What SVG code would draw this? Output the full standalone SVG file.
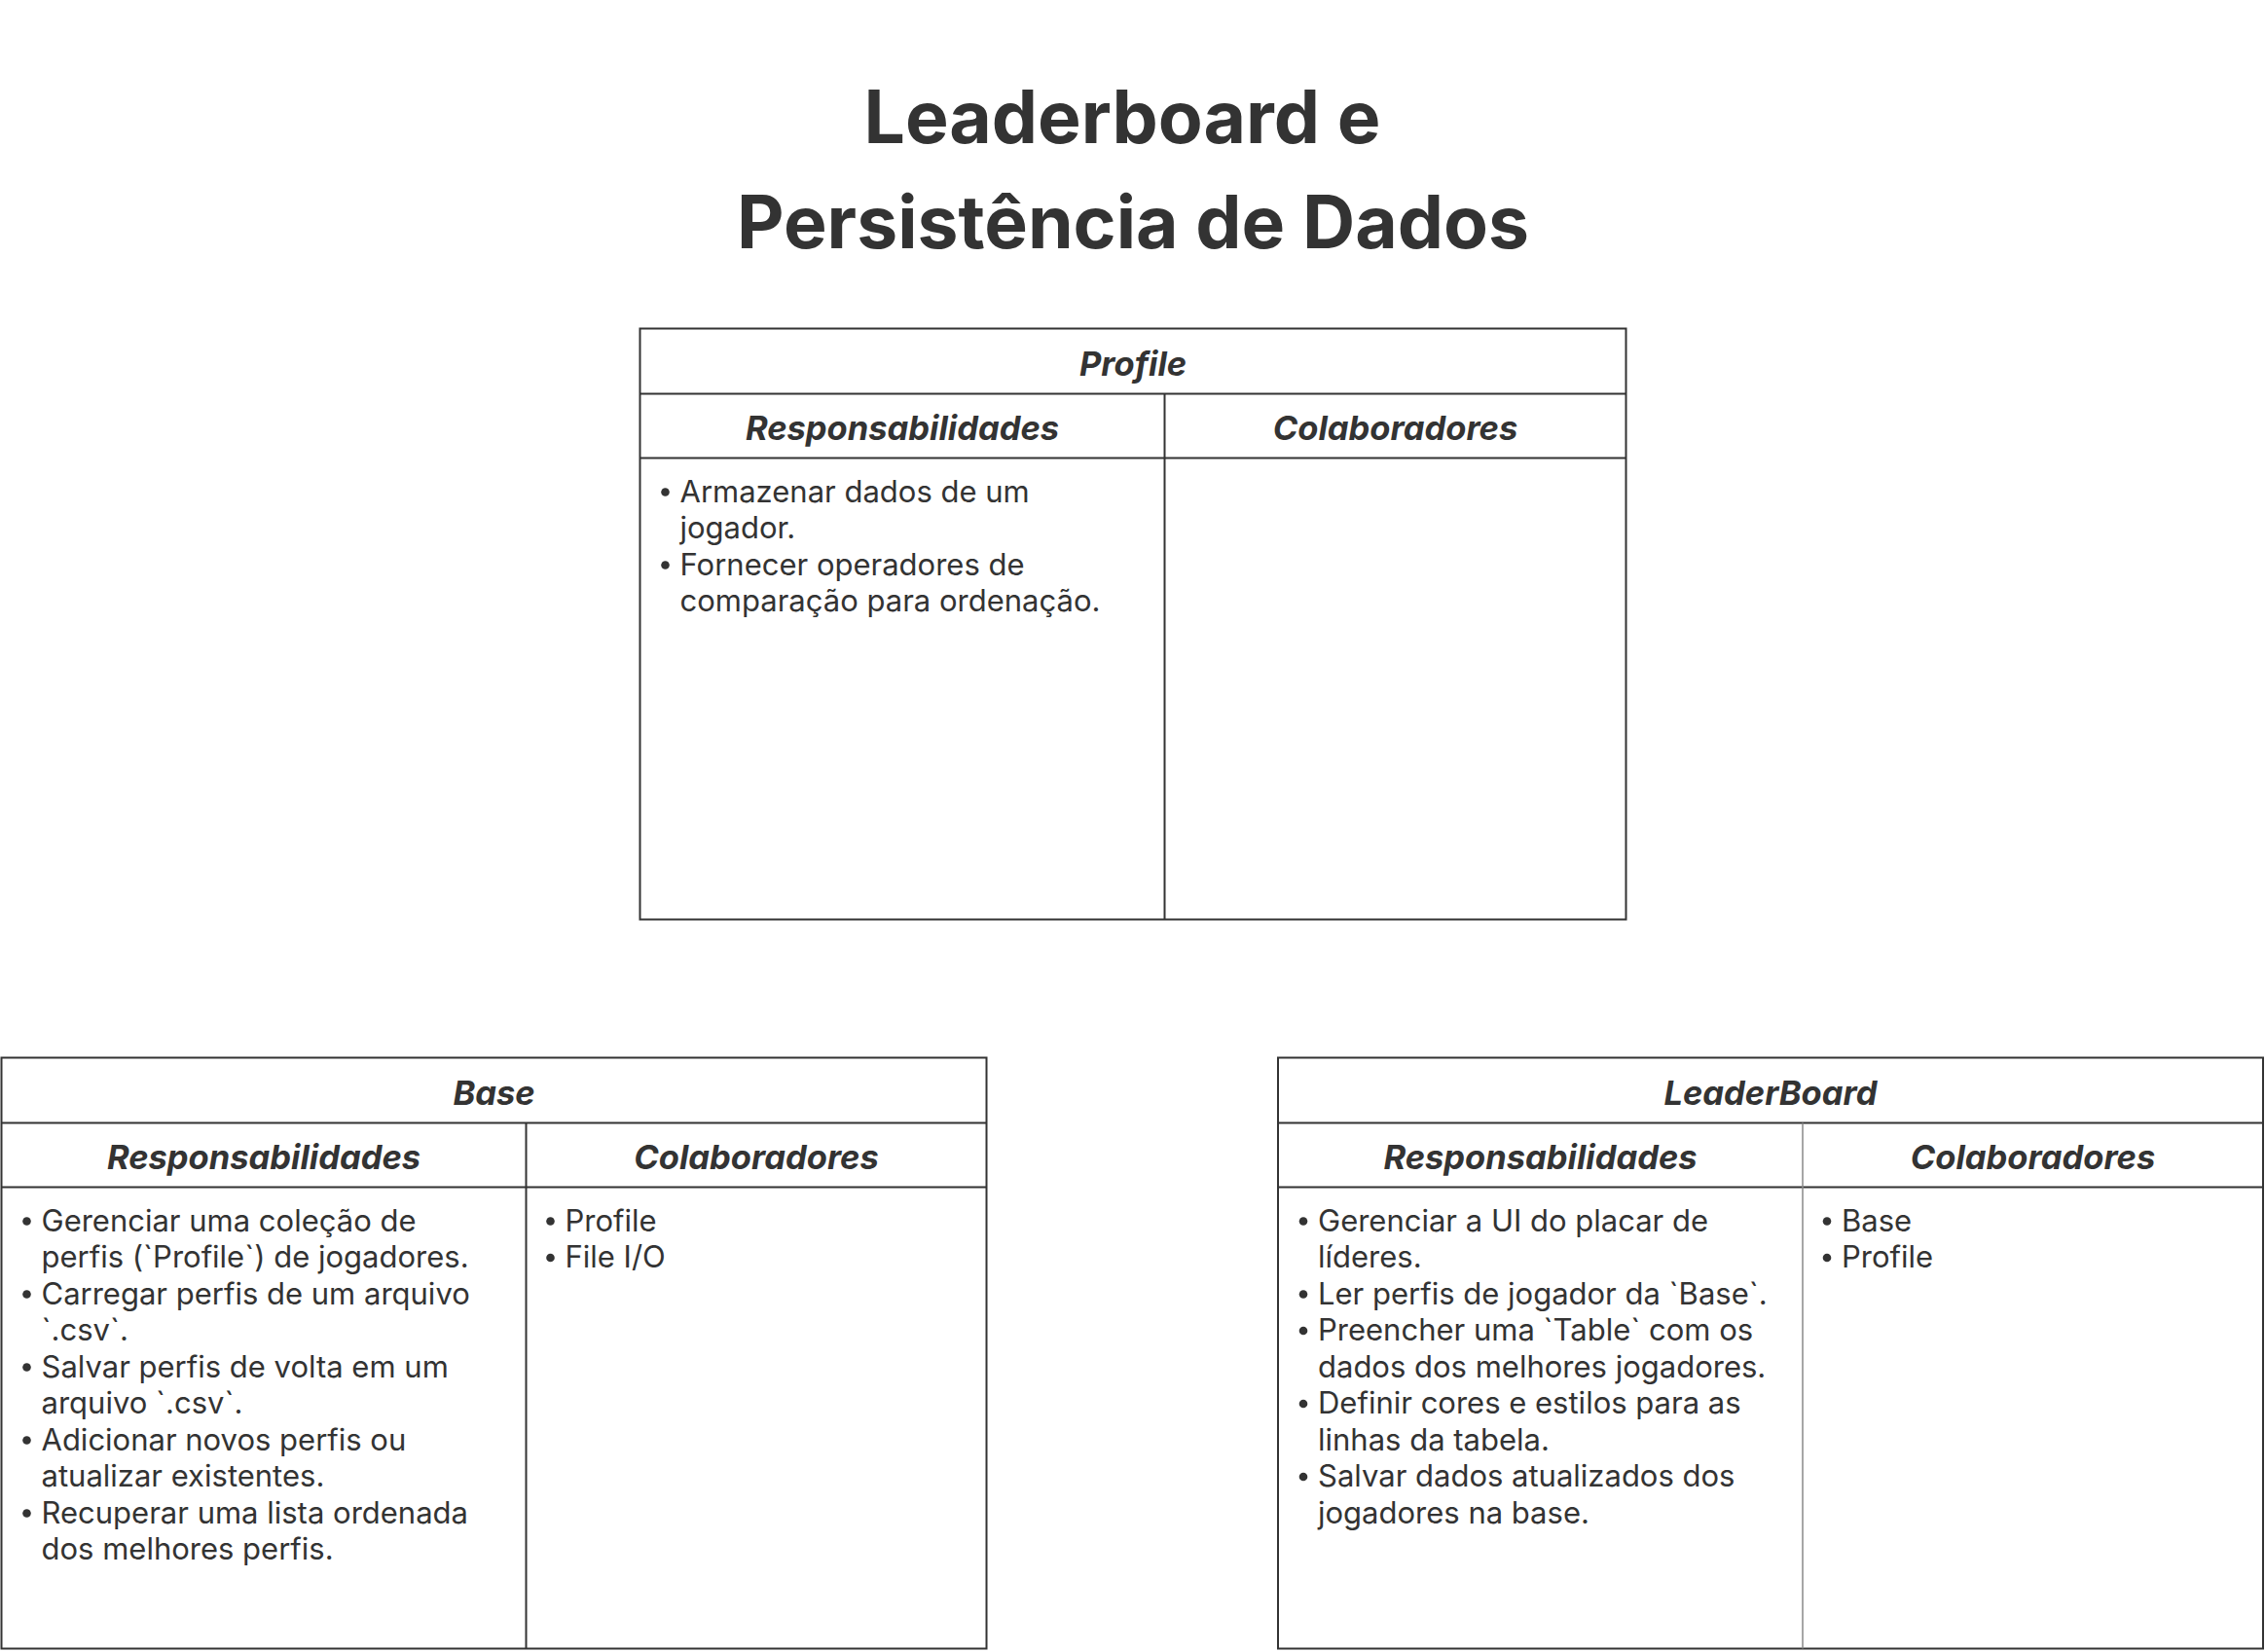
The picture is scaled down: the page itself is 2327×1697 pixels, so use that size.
<svg xmlns="http://www.w3.org/2000/svg" width="2327" height="1697" viewBox="0 0 2327 1697">
<style>
.frame{fill:#ffffff;stroke:#333333;stroke-width:2}
.ln{stroke:#333333;stroke-width:2}
.ln2{stroke:#888888;stroke-width:1.5}
.title{font-family:Inter,"Liberation Sans",sans-serif;font-weight:700;font-size:75px;fill:#333333;text-anchor:middle}
.ct{font-family:Inter,"Liberation Sans",sans-serif;font-weight:700;font-style:italic;font-size:34.5px;fill:#333333;text-anchor:middle}
.body{font-family:Inter,"Liberation Sans",sans-serif;font-size:31px;fill:#333333}
.dot{fill:#333333}
</style>
<rect width="2327" height="1697" fill="#ffffff"/>
<g id="title">
<text class="title" x="1153" y="147">Leaderboard e</text>
<text class="title" x="1164" y="255">Persistência de Dados</text>
</g>
<g id="connectors"></g>
<g id="profile" transform="translate(657.5,337.5)">
<rect class="frame" x="0" y="0" width="1013" height="607"/>
<line class="ln" x1="0" y1="67" x2="1013" y2="67"/>
<line class="ln" x1="0" y1="133" x2="1013" y2="133"/>
<line class="ln" x1="539" y1="67" x2="539" y2="607"/>
<text class="ct" x="506.5" y="48">Profile</text>
<text class="ct" x="269.5" y="114">Responsabilidades</text>
<text class="ct" x="776" y="114">Colaboradores</text>
<circle class="dot" cx="26" cy="168" r="4.3"/>
<circle class="dot" cx="26" cy="243" r="4.3"/>
<text class="body" x="41" y="178">Armazenar dados de um</text>
<text class="body" x="41" y="215.5">jogador.</text>
<text class="body" x="41" y="253">Fornecer operadores de</text>
<text class="body" x="41" y="290.5">comparação para ordenação.</text>
</g>
<g id="base" transform="translate(1.5,1086.5)">
<rect class="frame" x="0" y="0" width="1012" height="607"/>
<line class="ln" x1="0" y1="67" x2="1012" y2="67"/>
<line class="ln" x1="0" y1="133" x2="1012" y2="133"/>
<line class="ln" x1="539" y1="67" x2="539" y2="607"/>
<text class="ct" x="506" y="48">Base</text>
<text class="ct" x="269.5" y="114">Responsabilidades</text>
<text class="ct" x="775.5" y="114">Colaboradores</text>
<circle class="dot" cx="26" cy="168" r="4.3"/>
<circle class="dot" cx="26" cy="243" r="4.3"/>
<circle class="dot" cx="26" cy="318" r="4.3"/>
<circle class="dot" cx="26" cy="393" r="4.3"/>
<circle class="dot" cx="26" cy="468" r="4.3"/>
<text class="body" x="41" y="178">Gerenciar uma coleção de</text>
<text class="body" x="41" y="215.5">perfis (`Profile`) de jogadores.</text>
<text class="body" x="41" y="253">Carregar perfis de um arquivo</text>
<text class="body" x="41" y="290.5">`.csv`.</text>
<text class="body" x="41" y="328">Salvar perfis de volta em um</text>
<text class="body" x="41" y="365.5">arquivo `.csv`.</text>
<text class="body" x="41" y="403">Adicionar novos perfis ou</text>
<text class="body" x="41" y="440.5">atualizar existentes.</text>
<text class="body" x="41" y="478">Recuperar uma lista ordenada</text>
<text class="body" x="41" y="515.5">dos melhores perfis.</text>
<circle class="dot" cx="564" cy="168" r="4.3"/>
<circle class="dot" cx="564" cy="205.5" r="4.3"/>
<text class="body" x="579" y="178">Profile</text>
<text class="body" x="579" y="215.5">File I/O</text>
</g>
<g id="leaderboard" transform="translate(1313,1086.5)">
<rect class="frame" x="0" y="0" width="1012" height="607"/>
<line class="ln" x1="0" y1="67" x2="1012" y2="67"/>
<line class="ln" x1="0" y1="133" x2="1012" y2="133"/>
<line class="ln2" x1="539" y1="67" x2="539" y2="607"/>
<text class="ct" x="506" y="48">LeaderBoard</text>
<text class="ct" x="269.5" y="114">Responsabilidades</text>
<text class="ct" x="775.5" y="114">Colaboradores</text>
<circle class="dot" cx="26" cy="168" r="4.3"/>
<circle class="dot" cx="26" cy="243" r="4.3"/>
<circle class="dot" cx="26" cy="280.5" r="4.3"/>
<circle class="dot" cx="26" cy="355.5" r="4.3"/>
<circle class="dot" cx="26" cy="430.5" r="4.3"/>
<text class="body" x="41" y="178">Gerenciar a UI do placar de</text>
<text class="body" x="41" y="215.5">líderes.</text>
<text class="body" x="41" y="253">Ler perfis de jogador da `Base`.</text>
<text class="body" x="41" y="290.5">Preencher uma `Table` com os</text>
<text class="body" x="41" y="328">dados dos melhores jogadores.</text>
<text class="body" x="41" y="365.5">Definir cores e estilos para as</text>
<text class="body" x="41" y="403">linhas da tabela.</text>
<text class="body" x="41" y="440.5">Salvar dados atualizados dos</text>
<text class="body" x="41" y="478">jogadores na base.</text>
<circle class="dot" cx="564" cy="168" r="4.3"/>
<circle class="dot" cx="564" cy="205.5" r="4.3"/>
<text class="body" x="579" y="178">Base</text>
<text class="body" x="579" y="215.5">Profile</text>
</g>
</svg>
